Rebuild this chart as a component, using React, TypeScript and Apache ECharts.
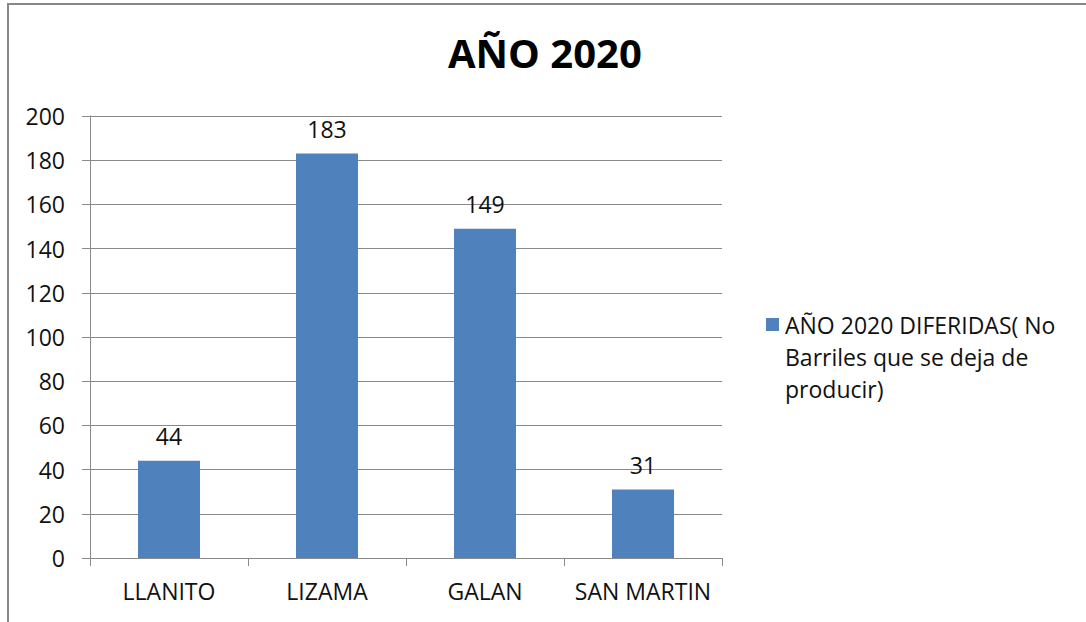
import React, { useEffect, useRef } from "react";
import * as echarts from "echarts";

const categories = ["LLANITO", "LIZAMA", "GALAN", "SAN MARTIN"];
const values = [44, 183, 149, 31];
const seriesName = "AÑO 2020 DIFERIDAS( No Barriles que se deja de producir)";
const legendLines = ["AÑO 2020 DIFERIDAS( No", "Barriles que se deja de", "producir)"];
const titleText = "AÑO 2020";

const FONT = "'Open Sans', 'Noto Sans', sans-serif";
const BAR = "#4F81BD";
const GRIDC = "#8a8a8a";
const TXT = "#111111";

export default function App() {
  const ref = useRef<HTMLDivElement>(null);
  useEffect(() => {
    if (!ref.current) return;
    const chart = echarts.init(ref.current, null, { renderer: "svg" });
    const legendFormatter = () =>
      legendLines
        .map((l, i) => (i === 0 ? "{m|}{g|}{t|" + l + "}" : "{i|}{t|" + l + "}"))
        .join("\n");
    chart.setOption({
      animation: false,
      backgroundColor: "#ffffff",
      textStyle: { fontFamily: FONT },
      title: {
        text: titleText,
        left: 443,
        top: 27,
        textStyle: { fontFamily: FONT, fontWeight: "bold", fontSize: 40, color: "#000" },
      },
      graphic: [
        {
          type: "rect",
          shape: { x: 8, y: 4, width: 1300, height: 900 },
          style: { fill: "none", stroke: "#888888", lineWidth: 2 },
          silent: true,
        },
      ],
      legend: {
        left: 756,
        top: 308,
        orient: "vertical",
        itemWidth: 0,
        itemHeight: 0,
        icon: "rect",
        data: [seriesName],
        formatter: legendFormatter,
        textStyle: {
          fontFamily: FONT,
          fontSize: 23,
          color: TXT,
          rich: {
            m: { width: 13, height: 13, backgroundColor: BAR },
            g: { width: 6 },
            i: { width: 19 },
            t: { fontFamily: FONT, fontSize: 23, lineHeight: 32, color: TXT },
          },
        },
      },
      grid: { left: 90, right: 364, top: 116, bottom: 64 },
      xAxis: {
        type: "category",
        data: categories,
        axisLine: { show: true, lineStyle: { color: GRIDC, width: 1 } },
        axisTick: { show: true, interval: 0, length: 8, alignWithLabel: false, lineStyle: { color: GRIDC } },
        axisLabel: { interval: 0, fontFamily: FONT, fontSize: 23, color: TXT, margin: 21 },
      },
      yAxis: {
        type: "value",
        min: 0,
        max: 200,
        interval: 20,
        axisLine: { show: true, lineStyle: { color: GRIDC, width: 1 } },
        axisTick: { show: true, length: 8, lineStyle: { color: GRIDC } },
        splitLine: { show: true, lineStyle: { color: GRIDC, width: 1 } },
        axisLabel: { fontFamily: FONT, fontSize: 23, color: TXT, margin: 25 },
      },
      series: [
        {
          name: seriesName,
          type: "bar",
          data: values,
          barWidth: 62,
          itemStyle: { color: BAR },
          label: {
            show: true,
            position: "top",
            distance: 13,
            fontFamily: FONT,
            fontSize: 23,
            color: TXT,
          },
        },
      ],
    });
    return () => chart.dispose();
  }, []);
  return (
    <div
      ref={ref}
      style={{ position: "absolute", left: 0, top: 0, width: 1086, height: 622 }}
    />
  );
}
